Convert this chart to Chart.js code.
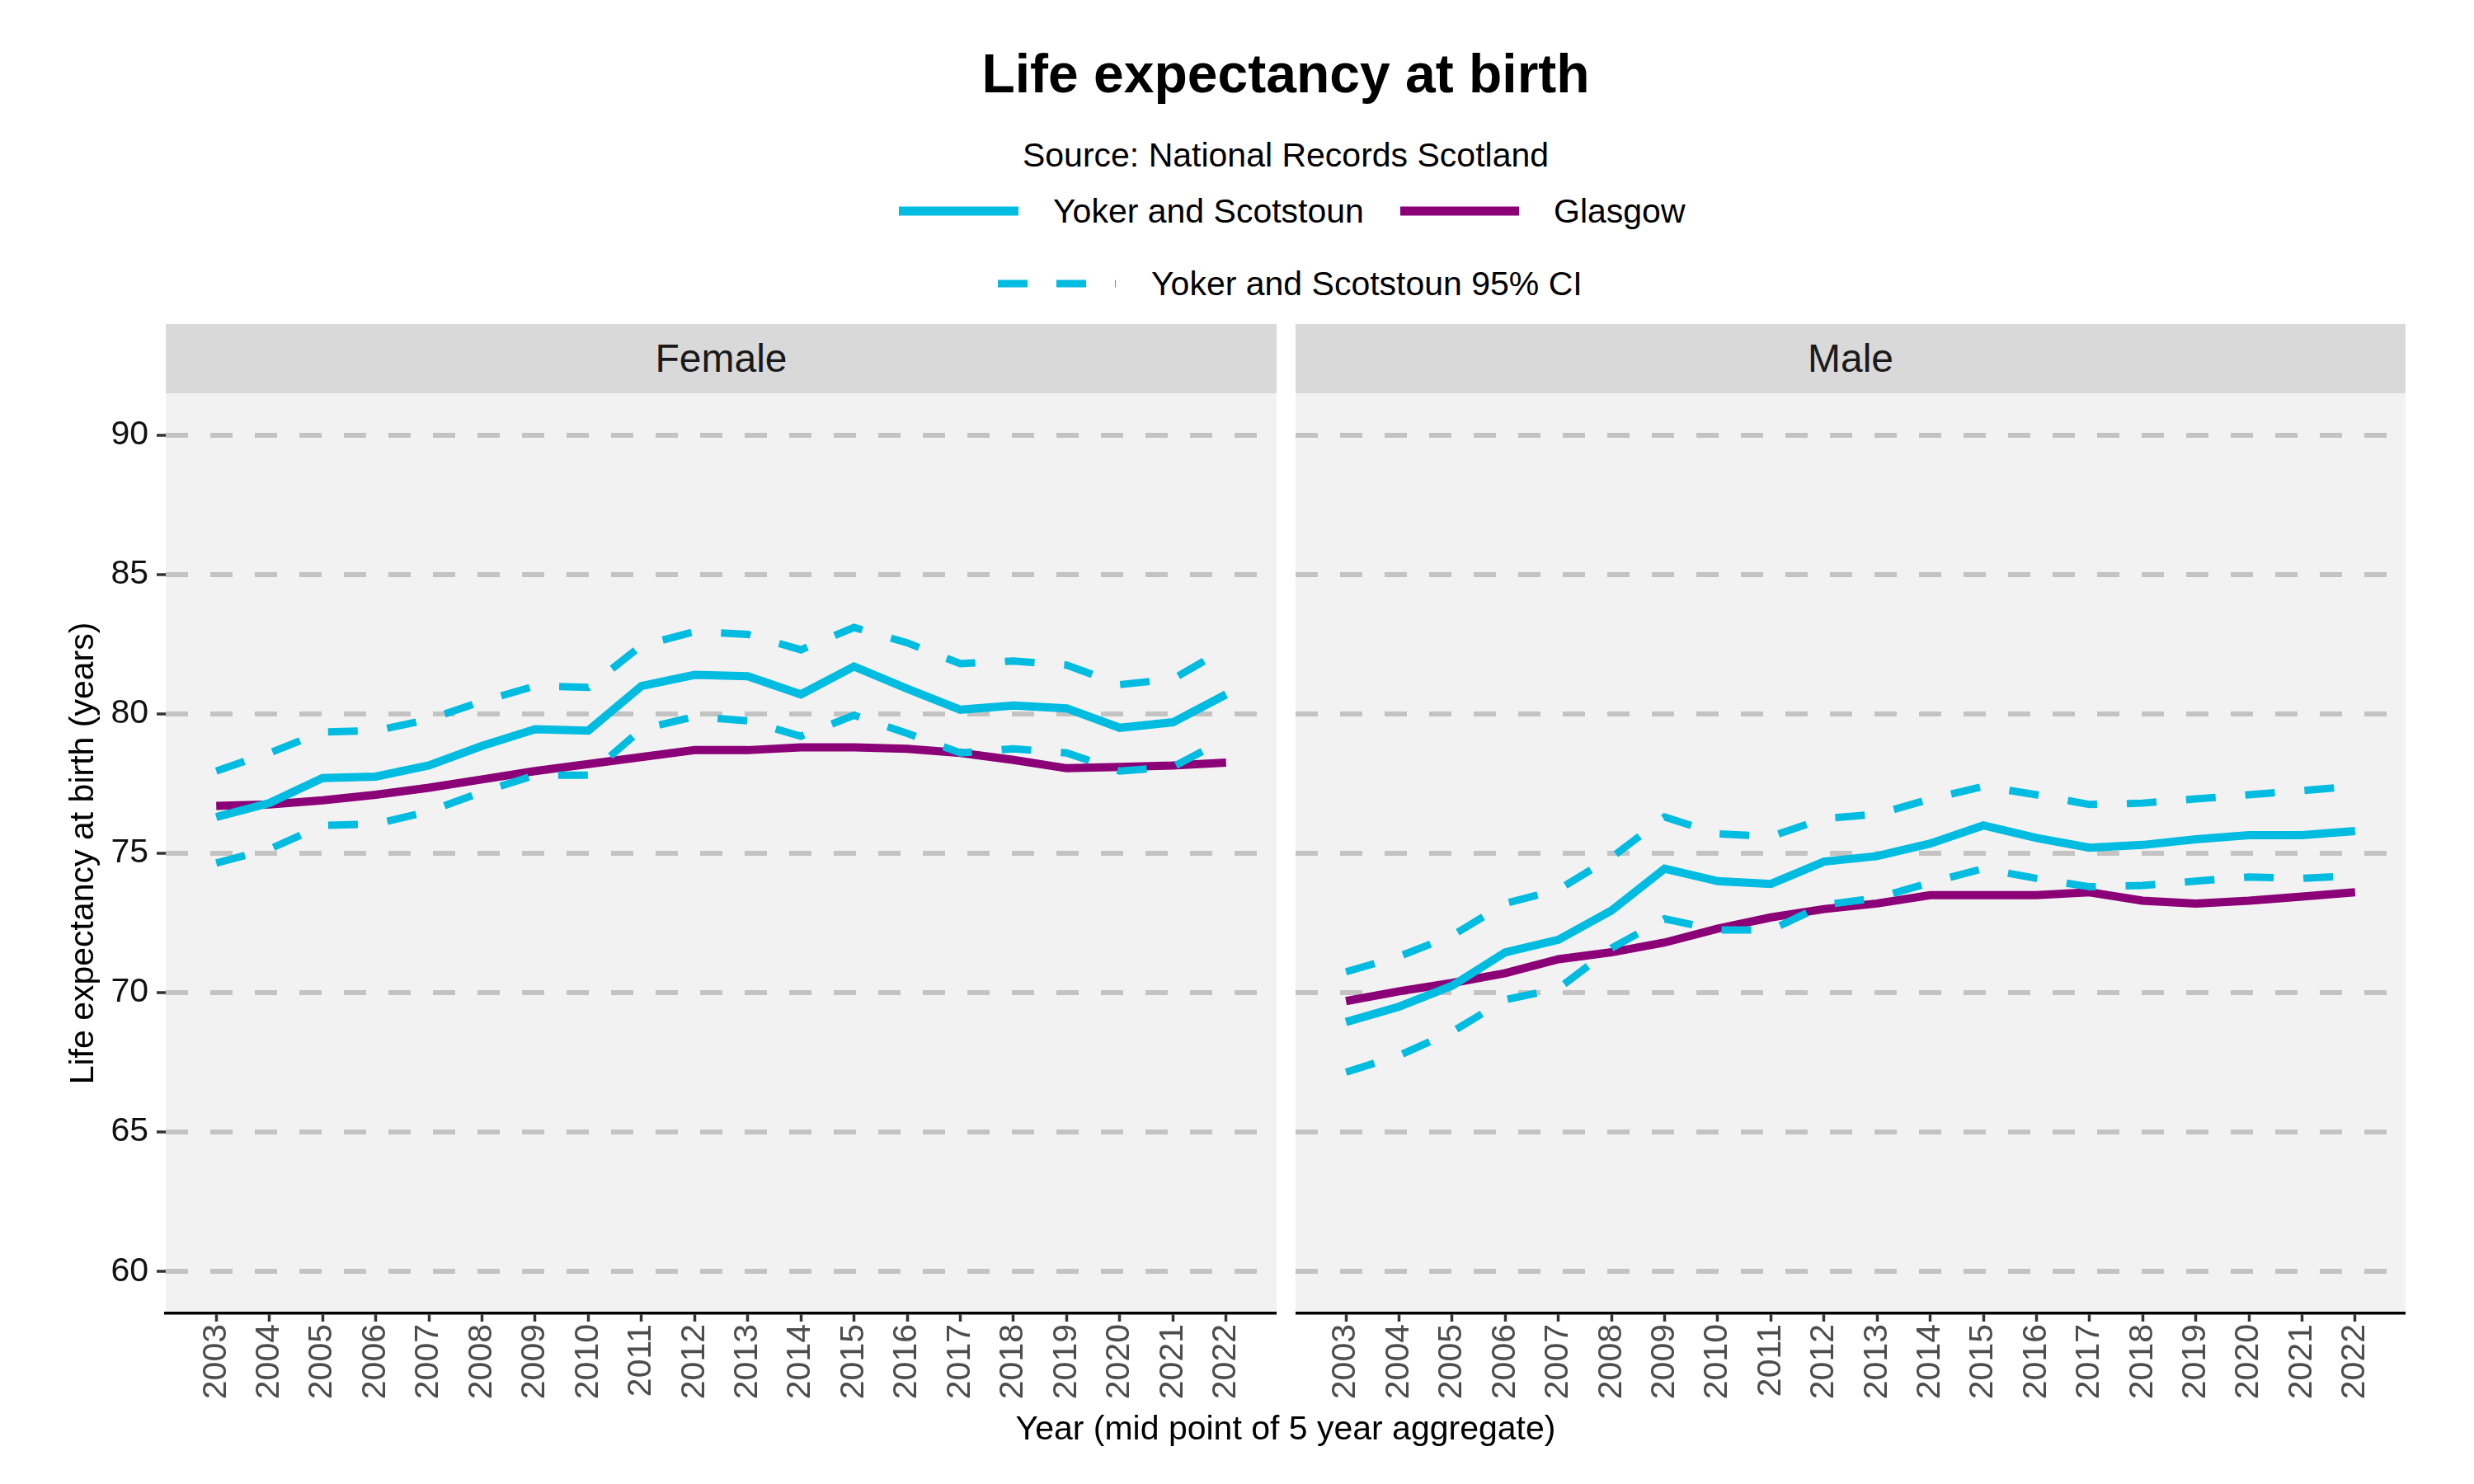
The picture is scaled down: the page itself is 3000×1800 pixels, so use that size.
<!DOCTYPE html>
<html>
<head>
<meta charset="utf-8">
<script src="https://cdn.jsdelivr.net/npm/chart.js@4"></script>
<style>
  body { margin: 0; width: 3000px; height: 1800px; background: #fff; position: relative; overflow: hidden;
         font-family: "Liberation Sans", Arial, sans-serif; color: #000; }
  .txt { position: absolute; white-space: nowrap; line-height: 1; }
  .center { left: 201px; width: 2716px; text-align: center; }
  .strip { position: absolute; top: 393px; height: 84px; background: #d9d9d9; color: #1a1a1a;
           font-size: 48px; line-height: 84px; text-align: center; }
  canvas { position: absolute; }
</style>
</head>
<body>
<div class="txt center" style="top:56px;font-size:66px;font-weight:bold;">Life expectancy at birth</div>
<div class="txt center" style="top:168px;font-size:41px;">Source: National Records Scotland</div>

<svg style="position:absolute;left:0;top:0" width="3000" height="400">
  <line x1="1090" y1="256" x2="1235" y2="256" stroke="#00bce0" stroke-width="11"/>
  <line x1="1698" y1="256" x2="1842" y2="256" stroke="#8b0077" stroke-width="11"/>
  <line x1="1210" y1="344" x2="1353" y2="344" stroke="#00bce0" stroke-width="9" stroke-dasharray="36 35"/>
</svg>
<div class="txt" style="left:1277px;top:236px;font-size:41px;">Yoker and Scotstoun</div>
<div class="txt" style="left:1884px;top:236px;font-size:41px;">Glasgow</div>
<div class="txt" style="left:1396px;top:324px;font-size:41px;">Yoker and Scotstoun 95% CI</div>

<div class="strip" style="left:201px;width:1347px;">Female</div>
<div class="strip" style="left:1571px;width:1346px;">Male</div>

<canvas id="femaleChart" width="1548" height="1246" style="left:0;top:477px;"></canvas>
<canvas id="maleChart" width="1346" height="1246" style="left:1571px;top:477px;"></canvas>

<div class="txt center" style="top:1712px;font-size:41px;">Year (mid point of 5 year aggregate)</div>

<script>
const years = [2003, 2004, 2005, 2006, 2007, 2008, 2009, 2010, 2011, 2012,
               2013, 2014, 2015, 2016, 2017, 2018, 2019, 2020, 2021, 2022];
const yTicks = [60, 65, 70, 75, 80, 85, 90];

// Female
const femaleYoker = [76.3, 76.8, 77.7, 77.75, 78.15, 78.85, 79.45, 79.4, 81.0, 81.4,
                     81.35, 80.7, 81.7, 80.9, 80.15, 80.3, 80.2, 79.5, 79.7, 80.7];
const femaleGlasgow = [76.7, 76.75, 76.9, 77.1, 77.35, 77.65, 77.95, 78.2, 78.45, 78.7,
                       78.7, 78.8, 78.8, 78.75, 78.6, 78.35, 78.05, 78.1, 78.15, 78.25];
const femaleUpper = [77.95, 78.6, 79.35, 79.4, 79.8, 80.45, 81.0, 80.95, 82.45, 82.95,
                     82.85, 82.3, 83.1, 82.55, 81.8, 81.9, 81.75, 81.05, 81.25, 82.35];
const femaleLower = [74.65, 75.15, 76.0, 76.05, 76.5, 77.2, 77.8, 77.8, 79.45, 79.9,
                     79.75, 79.2, 79.95, 79.3, 78.6, 78.75, 78.6, 77.95, 78.1, 79.1];

// Male
const maleYoker = [68.95, 69.5, 70.25, 71.45, 71.9, 72.95, 74.45, 74.0, 73.9, 74.7,
                   74.9, 75.35, 76.0, 75.55, 75.2, 75.3, 75.5, 75.65, 75.65, 75.8];
const maleGlasgow = [69.7, 70.05, 70.35, 70.7, 71.2, 71.45, 71.8, 72.3, 72.7, 73.0,
                     73.2, 73.5, 73.5, 73.5, 73.6, 73.3, 73.2, 73.3, 73.45, 73.6];
const maleUpper = [70.75, 71.3, 72.05, 73.2, 73.7, 74.85, 76.3, 75.7, 75.6, 76.25,
                   76.4, 76.95, 77.4, 77.1, 76.75, 76.8, 76.95, 77.1, 77.25, 77.4];
const maleLower = [67.15, 67.75, 68.6, 69.75, 70.15, 71.6, 72.65, 72.25, 72.25, 73.15,
                   73.4, 73.95, 74.45, 74.1, 73.8, 73.85, 74.0, 74.15, 74.1, 74.2];

const cyan = '#00bce0';
const purple = '#8b0077';

const panelBg = {
  id: 'panelBg',
  beforeDraw(chart) {
    const { ctx, chartArea: a } = chart;
    ctx.save();
    ctx.fillStyle = '#f2f2f2';
    ctx.fillRect(a.left, a.top, a.right - a.left, a.bottom - a.top);
    ctx.restore();
  },
};

function points(values) {
  return years.map((yr, i) => ({ x: yr, y: values[i] }));
}

function buildChart(id, yoker, glasgow, upper, lower, showY) {
  const ctx = document.getElementById(id).getContext('2d');
  const canvasH = ctx.canvas.height;
  return new Chart(ctx, {
    type: 'line',
    data: {
      datasets: [
        { label: 'Upper CI', data: points(upper), borderColor: cyan, borderWidth: 9, borderDash: [36, 36] },
        { label: 'Lower CI', data: points(lower), borderColor: cyan, borderWidth: 9, borderDash: [36, 36] },
        { label: 'Yoker and Scotstoun', data: points(yoker), borderColor: cyan, borderWidth: 10 },
        { label: 'Glasgow', data: points(glasgow), borderColor: purple, borderWidth: 10 },
      ],
    },
    options: {
      responsive: false,
      animation: false,
      devicePixelRatio: 1,
      layout: { padding: 0, autoPadding: false },
      elements: { point: { radius: 0 }, line: { tension: 0, fill: false } },
      plugins: { legend: { display: false }, tooltip: { enabled: false } },
      scales: {
        x: {
          type: 'linear',
          min: 2002.05,
          max: 2022.95,
          afterBuildTicks: (scale) => { scale.ticks = years.map((v) => ({ value: v })); },
          afterFit: (scale) => {
            scale.height = canvasH - 1116;
            scale.paddingLeft = 0; scale.paddingRight = 0;
          },
          ticks: {
            autoSkip: false,
            minRotation: 90,
            maxRotation: 90,
            padding: 3,
            color: '#4d4d4d',
            font: { family: 'Liberation Sans', size: 41 },
            callback: (v) => String(v),
          },
          grid: { drawOnChartArea: false, drawTicks: true, tickLength: 10, tickWidth: 3.5, tickColor: '#333333' },
          border: { display: true, color: '#000000', width: 3.5 },
        },
        y: {
          min: 58.5,
          max: 91.5,
          afterBuildTicks: (scale) => { scale.ticks = yTicks.map((v) => ({ value: v })); },
          afterFit: (scale) => {
            scale.width = showY ? 201 : 0;
            scale.paddingTop = 0; scale.paddingBottom = 0;
          },
          ticks: {
            display: showY,
            padding: 10,
            color: '#111111',
            font: { family: 'Liberation Sans', size: 41 },
            callback: (v) => String(v),
          },
          grid: {
            color: '#c3c3c3',
            lineWidth: 6,
            drawTicks: showY,
            tickLength: 11,
            tickWidth: 3.5,
            tickColor: '#333333',
          },
          border: { display: false, dash: [27, 27] },
          title: {
            display: showY,
            text: 'Life expectancy at birth (years)',
            color: '#000000',
            font: { family: 'Liberation Sans', size: 41 },
            padding: { top: 77, bottom: 0 },
          },
        },
      },
    },
    plugins: [panelBg],
  });
}

buildChart('femaleChart', femaleYoker, femaleGlasgow, femaleUpper, femaleLower, true);
buildChart('maleChart', maleYoker, maleGlasgow, maleUpper, maleLower, false);
</script>
</body>
</html>
